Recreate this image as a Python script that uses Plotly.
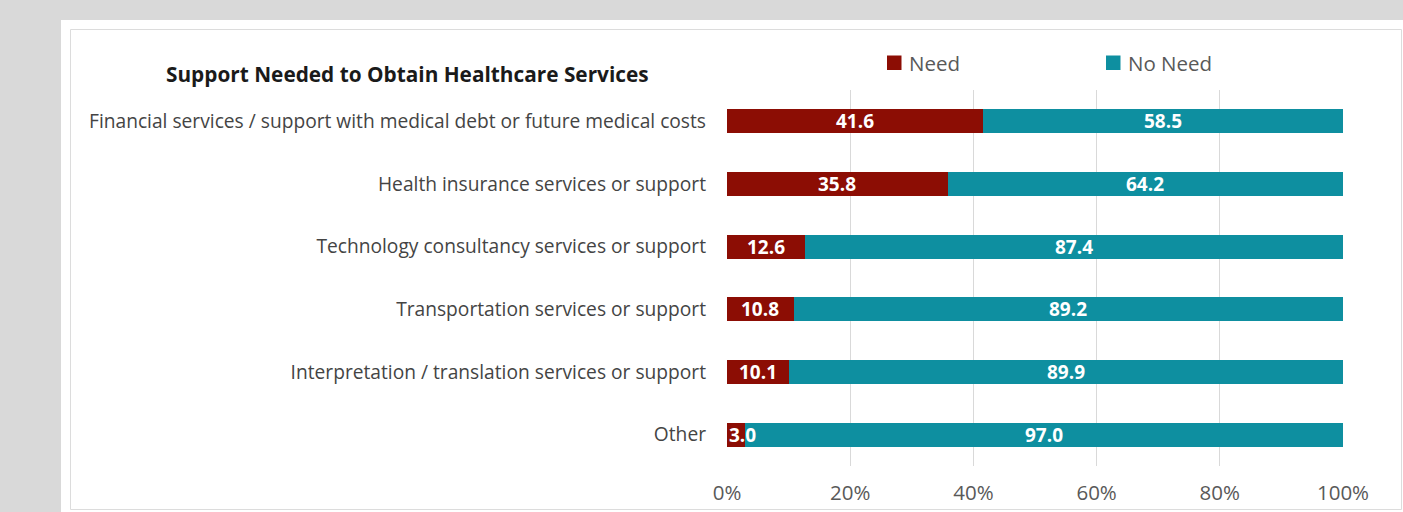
import plotly.graph_objects as go

# Survey results: share of respondents needing each kind of support
categories = [
    "Financial services / support with medical debt or future medical costs",
    "Health insurance services or support",
    "Technology consultancy services or support",
    "Transportation services or support",
    "Interpretation / translation services or support",
    "Other",
]
need = [41.6, 35.8, 12.6, 10.8, 10.1, 3.0]
no_need = [58.5, 64.2, 87.4, 89.2, 89.9, 97.0]
tick_vals = [0, 20, 40, 60, 80, 100]
tick_text = ["0%", "20%", "40%", "60%", "80%", "100%"]

title_text = "Support Needed to Obtain Healthcare Services"
series_names = ["Need", "No Need"]
series_colors = ["#8c0d04", "#0e8fa0"]

W, H = 1403, 512
ML, MR, MT, MB = 727, 60, 90, 46
PW, PH = W - ML - MR, H - MT - MB
FONT = "Open Sans"
VALUE_SIZE = 19


def px_x(px):
    return (px - ML) / PW


def px_y(py):
    return (H - MB - py) / PH


fig = go.Figure()
for name, vals, col in zip(series_names, [need, no_need], series_colors):
    fig.add_trace(go.Bar(
        y=categories, x=vals, name=name, orientation="h",
        marker=dict(color=col, line=dict(width=0)),
        showlegend=False, hoverinfo="x+y",
    ))

annotations = []
# value labels centred on each segment; a sliver too thin for its
# label gets the label starting at the bar's left end instead
for cat, a, b in zip(categories, need, no_need):
    if a < 5:
        annotations.append(dict(
            x=0, y=cat, xref="x", yref="y", xanchor="left", xshift=0,
            text=f"<b>{a:.1f}</b>", showarrow=False,
            font=dict(family=FONT, size=VALUE_SIZE, color="white"),
        ))
    else:
        annotations.append(dict(
            x=a / 2, y=cat, xref="x", yref="y", text=f"<b>{a:.1f}</b>",
            showarrow=False,
            font=dict(family=FONT, size=VALUE_SIZE, color="white"),
        ))
    annotations.append(dict(
        x=a + b / 2, y=cat, xref="x", yref="y", text=f"<b>{b:.1f}</b>",
        showarrow=False,
        font=dict(family=FONT, size=VALUE_SIZE, color="white"),
    ))

annotations.append(dict(
    x=px_x(164), y=px_y(74), xref="paper", yref="paper", xanchor="left",
    yanchor="middle", text=f"<b>{title_text}</b>", showarrow=False,
    font=dict(family=FONT, size=20.8, color="#1a1a1a"),
))

shapes = [
    # grey surround above and left of the white card
    dict(type="rect", xref="paper", yref="paper", layer="below",
         x0=px_x(0), x1=px_x(W), y0=px_y(0), y1=px_y(20),
         fillcolor="#d9d9d9", line=dict(width=0)),
    dict(type="rect", xref="paper", yref="paper", layer="below",
         x0=px_x(0), x1=px_x(61), y0=px_y(0), y1=px_y(H),
         fillcolor="#d9d9d9", line=dict(width=0)),
    # thin frame inside the card
    dict(type="rect", xref="paper", yref="paper", layer="below",
         x0=px_x(70.5), x1=px_x(1401.5), y0=px_y(29.5), y1=px_y(509.5),
         fillcolor="rgba(0,0,0,0)", line=dict(color="#dcdcdc", width=1)),
]

# legend built from the series names and colours
legend_pos = [887, 1106]
for name, col, lx in zip(series_names, series_colors, legend_pos):
    shapes.append(dict(type="rect", xref="paper", yref="paper",
                       x0=px_x(lx), x1=px_x(lx + 14.5),
                       y0=px_y(55.5), y1=px_y(70),
                       fillcolor=col, line=dict(width=0)))
    annotations.append(dict(
        x=px_x(lx + 20), y=px_y(63), xref="paper", yref="paper",
        xanchor="left", yanchor="middle", text=name, showarrow=False,
        font=dict(family=FONT, size=20.5, color="#595959"),
    ))

fig.update_layout(
    width=W, height=H, autosize=False, barmode="stack", bargap=0.62,
    margin=dict(l=ML, r=MR, t=MT, b=MB, pad=0, autoexpand=False),
    paper_bgcolor="white", plot_bgcolor="rgba(0,0,0,0)",
    font=dict(family=FONT, color="#595959"),
    annotations=annotations, shapes=shapes,
    xaxis=dict(range=[0, 100], tickvals=tick_vals, ticktext=tick_text,
               showgrid=True, gridcolor="#d9d9d9", gridwidth=1,
               zeroline=False, showline=False, ticks="", automargin=False,
               tickfont=dict(family=FONT, size=20.5, color="#595959"),
               ticklabelstandoff=12, fixedrange=True),
    yaxis=dict(categoryorder="array", categoryarray=categories,
               autorange="reversed", showgrid=False, zeroline=False,
               showline=False, ticks="", automargin=False,
               tickfont=dict(family=FONT, size=19.2, color="#444444"),
               ticklabelstandoff=20, fixedrange=True),
)

fig.write_html(
    "out.html",
    config={"responsive": False, "displayModeBar": False},
    post_script="var r=document.documentElement, b=document.body;"
                "r.style.overflow='hidden'; r.style.scrollbarWidth='none';"
                "r.style.background='white';"
                "b.style.margin='0'; b.style.overflow='hidden';"
                "b.style.background='white';",
)
